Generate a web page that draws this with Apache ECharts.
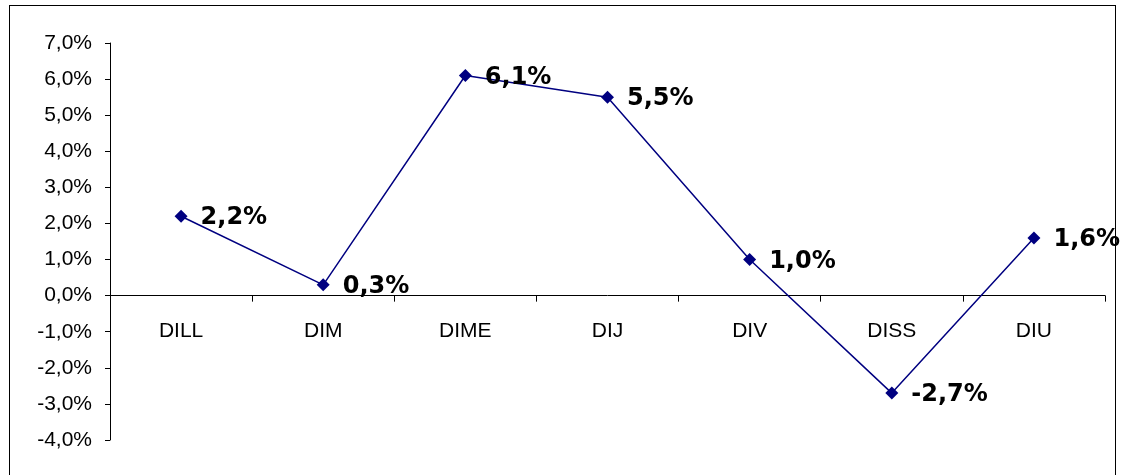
<!DOCTYPE html>
<html><head><meta charset="utf-8">
<script src="https://cdn.jsdelivr.net/npm/echarts@6/dist/echarts.min.js"></script>
<style>
html,body{margin:0;padding:0;background:#fff;}
#frame{position:absolute;left:9px;top:5px;width:1107px;height:480px;border:1.5px solid #000;box-sizing:border-box;}
#c{position:absolute;left:0;top:0;width:1121px;height:475px;}
</style></head>
<body>
<div id="frame"></div>
<div id="c"></div>
<script>
const categories = ['DILL','DIM','DIME','DIJ','DIV','DISS','DIU'];
const values = [2.2, 0.3, 6.1, 5.5, 1.0, -2.7, 1.6];
const yMin = -4, yMax = 7, yStep = 1;

const fmt = v => v.toFixed(1).replace('.', ',') + '%';
const gridTop = 43, gridBottom = 35, H = 475;
const plotH = H - gridTop - gridBottom;
const zeroOffset = -plotH * (0 - yMin) / (yMax - yMin);
const chart = echarts.init(document.getElementById('c'), null, {renderer:'canvas'});
chart.setOption({
  animation:false,
  backgroundColor:'transparent',
  grid:{left:110, right:16, top:gridTop, bottom:gridBottom, containLabel:false, outerBoundsMode:'none'},
  xAxis:{
    type:'category', data:categories, boundaryGap:true, position:'bottom', offset:zeroOffset,
    axisLine:{onZero:false, lineStyle:{color:'#000', width:1}},
    axisTick:{show:true, inside:false, length:6, alignWithLabel:false, lineStyle:{color:'#000'}},
    axisLabel:{color:'#000', fontFamily:'Liberation Sans, Arial', fontSize:21, margin:25},
    splitLine:{show:false}
  },
  yAxis:{
    type:'value', min:yMin, max:yMax, interval:yStep,
    axisLine:{show:true, lineStyle:{color:'#000', width:1}},
    axisTick:{show:true, length:5, lineStyle:{color:'#000'}},
    axisLabel:{color:'#000', fontFamily:'Liberation Sans, Arial', fontSize:21, margin:18, formatter:fmt},
    splitLine:{show:false}
  },
  series:[{
    type:'line', data:values,
    symbol:'diamond', symbolSize:13,
    lineStyle:{color:'#000080', width:1.5},
    itemStyle:{color:'#000080'},
    label:{show:true, position:'right', distance:13, offset:[0,2], color:'#000',
      fontFamily:'DejaVu Sans', fontWeight:'bold', fontSize:24,
      formatter:p=>fmt(p.value)}
  }]
});
</script>
</body></html>
